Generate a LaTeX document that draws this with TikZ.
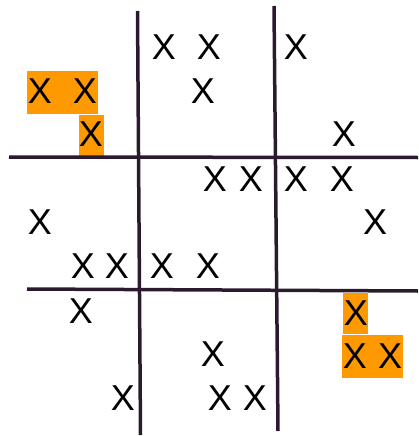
\documentclass[tikz,border=0pt]{standalone}
\usepackage{fontspec}
\setmainfont{Liberation Sans}
\definecolor{gridline}{HTML}{2B1A2D}
\definecolor{hl}{HTML}{FF9900}
\begin{document}
\begin{tikzpicture}[x=1pt,y=-1pt,
  xm/.style={inner sep=0pt,font=\fontsize{36}{36}\selectfont},
  gl/.style={draw=gridline,line width=3.5pt},
  hlbox/.style={fill=hl,draw=none}]
\useasboundingbox (0,0) rectangle (418,436);
% highlight boxes
\fill[hlbox] (27,71) rectangle (98,114);
\fill[hlbox] (79,115) rectangle (104,156);
\fill[hlbox] (343,293) rectangle (368,334);
\fill[hlbox] (342,335) rectangle (403,378);
% grid lines
\coordinate (v1t) at (137.5,11);
\coordinate (v1b) at (140.5,435);
\coordinate (v2t) at (274,6);
\coordinate (v2b) at (278,431);
\coordinate (h1l) at (9,157);
\coordinate (h1r) at (418,157.5);
\coordinate (h2l) at (27,289);
\coordinate (h2r) at (418,291);
\draw[gl] (v1t) -- (v1b);
\draw[gl] (v2t) -- (v2b);
\draw[gl] (h1l) -- (h1r);
\draw[gl] (h2l) -- (h2r);
% X marks
\node[xm] (a1) at (164,47) {X};
\node[xm] (a2) at (209,47) {X};
\node[xm] (a3) at (203,91) {X};
\node[xm] (a4) at (296,47) {X};
\node[xm] (b1) at (40,91) {X};
\node[xm] (b2) at (85,91) {X};
\node[xm] (b3) at (91,134) {X};
\node[xm] (c1) at (344,134) {X};
\node[xm] (d1) at (215,179) {X};
\node[xm] (d2) at (251,179) {X};
\node[xm] (d3) at (296,179) {X};
\node[xm] (d4) at (342,179) {X};
\node[xm] (e1) at (40,222) {X};
\node[xm] (e2) at (375,222) {X};
\node[xm] (f1) at (83,266) {X};
\node[xm] (f2) at (117,266) {X};
\node[xm] (f3) at (162,266) {X};
\node[xm] (f4) at (208,266) {X};
\node[xm] (g1) at (81,311) {X};
\node[xm] (g2) at (356,313) {X};
\node[xm] (h1) at (213,354) {X};
\node[xm] (h2) at (355,356) {X};
\node[xm] (h3) at (390,356) {X};
\node[xm] (i1) at (123,398) {X};
\node[xm] (i2) at (220,398) {X};
\node[xm] (i3) at (255,398) {X};
\end{tikzpicture}
\end{document}
